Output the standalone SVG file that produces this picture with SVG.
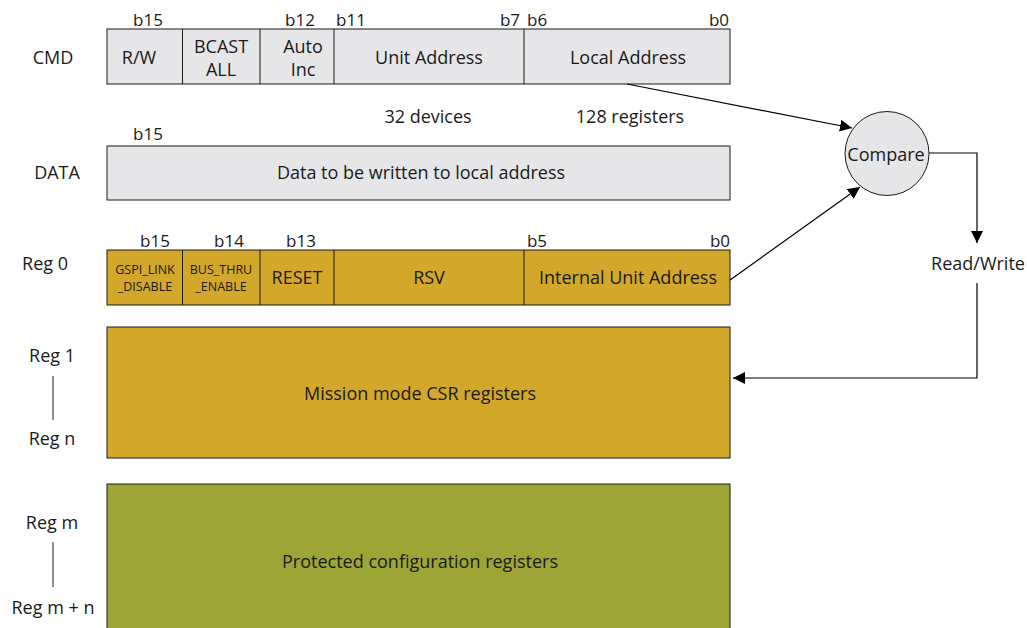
<svg xmlns="http://www.w3.org/2000/svg" width="1027" height="628" viewBox="0 0 1027 628">
<style>
text{font-family:"Open Sans","Noto Sans","Liberation Sans",sans-serif;font-size:18px;fill:#1a1a1a;text-anchor:middle;dominant-baseline:central}
.sm{font-size:12.5px}
.bit{font-size:17px}
.gray{fill:#e6e6e8;stroke:#1a1a1a;stroke-width:1}
.gold{fill:#d3a72a;stroke:#1a1a1a;stroke-width:1}
.olive{fill:#9ca536;stroke:#1a1a1a;stroke-width:1}
.div{stroke:#1a1a1a;stroke-width:1}
.conn{fill:none;stroke:#000;stroke-width:1.2}
</style>
<defs>
<marker id="ah" viewBox="0 0 10 10" refX="10" refY="5" markerWidth="12" markerHeight="12" markerUnits="userSpaceOnUse" orient="auto"><path d="M0,0 L10,5 L0,10 z" fill="#000"/></marker>
</defs>
<g id="labels">
<text x="53" y="57">CMD</text>
<text x="57" y="172">DATA</text>
<text x="45" y="263">Reg 0</text>
<text x="52" y="355">Reg 1</text>
<line x1="53" y1="376" x2="53" y2="420" class="div"/>
<text x="52" y="438">Reg n</text>
<text x="52" y="522">Reg m</text>
<line x1="53" y1="542" x2="53" y2="587" class="div"/>
<text x="53" y="607">Reg m + n</text>
</g>
<g id="cmd">
<rect x="107" y="29" width="623" height="55" class="gray"/>
<line x1="182.5" y1="29" x2="182.5" y2="84" class="div"/>
<line x1="260" y1="29" x2="260" y2="84" class="div"/>
<line x1="334" y1="29" x2="334" y2="84" class="div"/>
<line x1="524" y1="29" x2="524" y2="84" class="div"/>
<text x="148" y="19" class="bit">b15</text>
<text x="300" y="19" class="bit">b12</text>
<text x="351" y="19" class="bit">b11</text>
<text x="520" y="19" class="bit" style="text-anchor:end">b7</text>
<text x="527" y="19" class="bit" style="text-anchor:start">b6</text>
<text x="719" y="19" class="bit">b0</text>
<text x="139" y="57">R/W</text>
<text x="221" y="46">BCAST</text>
<text x="221" y="69">ALL</text>
<text x="303" y="46">Auto</text>
<text x="303" y="69">Inc</text>
<text x="429" y="57">Unit Address</text>
<text x="628" y="57">Local Address</text>
<text x="428" y="116">32 devices</text>
<text x="630" y="116">128 registers</text>
</g>
<g id="data">
<rect x="107" y="146" width="623" height="54" class="gray"/>
<text x="148" y="133" class="bit">b15</text>
<text x="421" y="172">Data to be written to local address</text>
</g>
<g id="reg0">
<rect x="107" y="250" width="623" height="55" class="gold"/>
<line x1="182.5" y1="250" x2="182.5" y2="305" class="div"/>
<line x1="260" y1="250" x2="260" y2="305" class="div"/>
<line x1="334" y1="250" x2="334" y2="305" class="div"/>
<line x1="524" y1="250" x2="524" y2="305" class="div"/>
<text x="155" y="240" class="bit">b15</text>
<text x="229" y="240" class="bit">b14</text>
<text x="301" y="240" class="bit">b13</text>
<text x="537" y="240" class="bit">b5</text>
<text x="720" y="240" class="bit">b0</text>
<text x="145" y="269" class="sm">GSPI_LINK</text>
<text x="145" y="286" class="sm">_DISABLE</text>
<text x="221" y="269" class="sm">BUS_THRU</text>
<text x="221" y="286" class="sm">_ENABLE</text>
<text x="297" y="277">RESET</text>
<text x="429" y="277">RSV</text>
<text x="628" y="277">Internal Unit Address</text>
</g>
<g id="mission">
<rect x="107" y="327" width="623" height="131" class="gold"/>
<text x="420" y="393">Mission mode CSR registers</text>
</g>
<g id="protected">
<rect x="107" y="484" width="623" height="150" class="olive"/>
<text x="420" y="561">Protected configuration registers</text>
</g>
<g id="compare">
<circle cx="887" cy="153.5" r="42" class="gray"/>
<text x="886" y="154">Compare</text>
</g>
<g id="rw">
<text x="978" y="263">Read/Write</text>
</g>
<g id="connectors">
<path d="M627,84 L852,128" class="conn" marker-end="url(#ah)"/>
<path d="M730,280 L860,187" class="conn" marker-end="url(#ah)"/>
<path d="M929,153 L977,153 L977,243" class="conn" marker-end="url(#ah)"/>
<path d="M977,283 L977,378 L733,378" class="conn" marker-end="url(#ah)"/>
</g>
</svg>
